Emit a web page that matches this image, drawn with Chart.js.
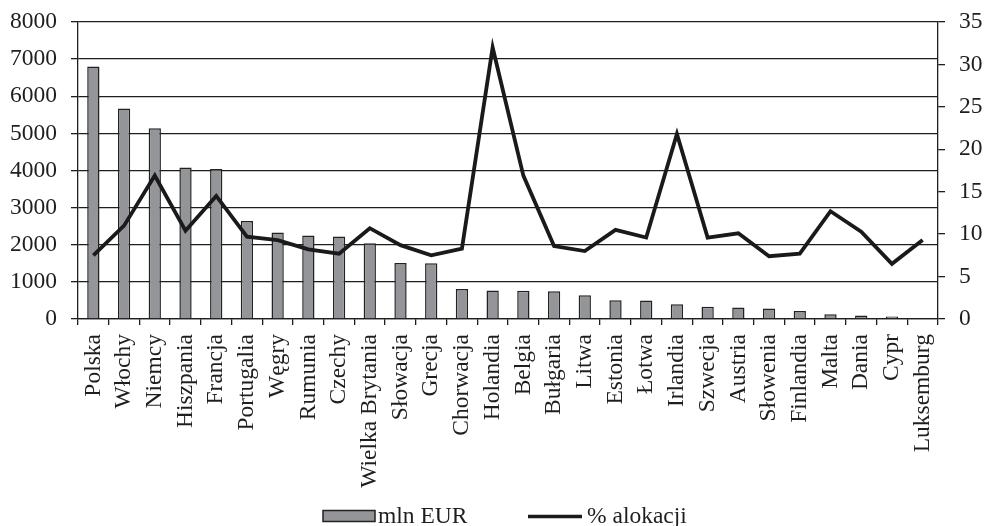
<!DOCTYPE html>
<html>
<head>
<meta charset="utf-8">
<script src="https://cdn.jsdelivr.net/npm/chart.js@4"></script>
<style>
  html, body { margin: 0; padding: 0; background: #fff; }
  #wrap { width: 984px; height: 526px; position: relative; }
</style>
</head>
<body>
<div id="wrap"><canvas id="c"></canvas></div>
<script>
const categories = ["Polska","Włochy","Niemcy","Hiszpania","Francja","Portugalia","Węgry","Rumunia","Czechy","Wielka Brytania","Słowacja","Grecja","Chorwacja","Holandia","Belgia","Bułgaria","Litwa","Estonia","Łotwa","Irlandia","Szwecja","Austria","Słowenia","Finlandia","Malta","Dania","Cypr","Luksemburg"];
const mlnEUR = [6800,5670,5140,4080,4040,2640,2330,2250,2220,2040,1510,1500,810,770,760,745,640,505,495,395,330,310,285,215,125,95,70,20];
const alokacja = [7.5,11.0,16.9,10.4,14.5,9.7,9.3,8.2,7.7,10.7,8.7,7.5,8.3,32.0,16.9,8.6,8.0,10.5,9.6,21.8,9.6,10.1,7.4,7.7,12.7,10.3,6.5,9.3];
const leftTicks = [0,1000,2000,3000,4000,5000,6000,7000,8000];
const rightTicks = [0,5,10,15,20,25,30,35];
const seriesNames = ['mln EUR', '% alokacji'];

const FONT_FAMILY = "'Liberation Serif', 'Times New Roman', serif";
const FONT = { family: FONT_FAMILY, size: 23.5 };
const INK = '#1e1e1e';
const BAR_FILL = '#939598';
const BAR_EDGE = '#222';
const LINE_COL = '#1a1a1a';

// Custom legend drawn below the chart, matching the reference layout
const legendPlugin = {
  id: 'refLegend',
  afterDraw(chart) {
    const ctx = chart.ctx;
    ctx.save();
    ctx.font = `23.5px ${FONT_FAMILY}`;
    ctx.textBaseline = 'alphabetic';
    ctx.textAlign = 'left';
    const base = 523;
    // bar swatch
    ctx.fillStyle = BAR_FILL;
    ctx.strokeStyle = BAR_EDGE;
    ctx.lineWidth = 1.5;
    ctx.fillRect(323, 510.5, 52, 11);
    ctx.strokeRect(323, 510.5, 52, 11);
    ctx.fillStyle = INK;
    ctx.fillText(seriesNames[0], 378, base);
    // line swatch
    ctx.strokeStyle = LINE_COL;
    ctx.lineWidth = 3.5;
    ctx.beginPath();
    ctx.moveTo(528, 516.5);
    ctx.lineTo(582, 516.5);
    ctx.stroke();
    ctx.fillText(seriesNames[1], 587, base);
    ctx.restore();
  }
};

new Chart(document.getElementById('c'), {
  data: {
    labels: categories,
    datasets: [
      {
        type: 'bar', label: seriesNames[0], data: mlnEUR, yAxisID: 'y',
        backgroundColor: BAR_FILL, borderColor: BAR_EDGE, borderWidth: 1.5,
        barPercentage: 0.4, categoryPercentage: 1.0, order: 1
      },
      {
        type: 'line', label: seriesNames[1], data: alokacja, yAxisID: 'y1',
        borderColor: LINE_COL, backgroundColor: LINE_COL, borderWidth: 3.8,
        pointRadius: 0, tension: 0, order: 0
      }
    ]
  },
  plugins: [legendPlugin],
  options: {
    responsive: true, maintainAspectRatio: false, animation: false,
    layout: { padding: { left: 0, right: 0, top: 22, bottom: 32 } },
    plugins: {
      tooltip: { enabled: false },
      legend: { display: false }
    },
    scales: {
      x: {
        type: 'category',
        afterFit: s => { s.height = 175; s.paddingLeft = 0; s.paddingRight = 0; },
        grid: { offset: true, drawOnChartArea: false, drawTicks: true, tickLength: 6, color: INK, lineWidth: 1.3 },
        border: { display: true, color: INK, width: 1.3 },
        ticks: { font: FONT, color: INK, maxRotation: 90, minRotation: 90, autoSkip: false, padding: 9 }
      },
      y: {
        position: 'left', min: 0, max: 8000,
        afterBuildTicks: s => { s.ticks = leftTicks.map(v => ({ value: v })); },
        afterFit: s => { s.width = 78; s.paddingTop = 0; s.paddingBottom = 0; },
        grid: { color: INK, lineWidth: 1.3, tickLength: 7 },
        border: { display: true, color: INK, width: 1.3 },
        ticks: { font: FONT, color: INK, padding: 14, callback: v => String(v) }
      },
      y1: {
        position: 'right', min: 0, max: 35,
        afterBuildTicks: s => { s.ticks = rightTicks.map(v => ({ value: v })); },
        afterFit: s => { s.width = 46; s.paddingTop = 0; s.paddingBottom = 0; },
        grid: { drawOnChartArea: false, color: INK, lineWidth: 1.3, tickLength: 7 },
        border: { display: true, color: INK, width: 1.3 },
        ticks: { font: FONT, color: INK, padding: 14, callback: v => String(v) }
      }
    }
  }
});
</script>
</body>
</html>
